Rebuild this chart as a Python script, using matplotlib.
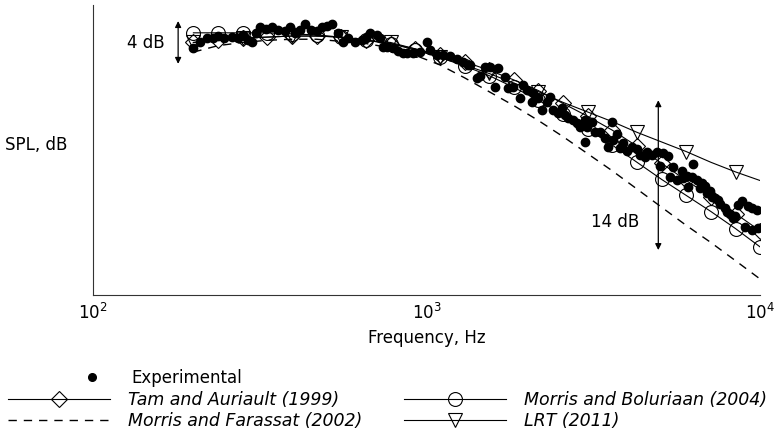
import matplotlib
matplotlib.use("Agg")
import matplotlib.pyplot as plt
from matplotlib.lines import Line2D

plt.rcParams['font.family'] = ['DejaVu Sans']

# experimental data (Hz, dB)
exp_freq = [200, 209, 220, 229, 237, 247, 261, 272, 282, 292, 300, 308, 317, 330,
            344, 359, 377, 390, 404, 418, 433, 451, 470, 486, 504, 521, 543, 562,
            582, 611, 641, 659, 678, 711, 726, 741, 762, 794, 822, 851, 875, 912,
            957, 1005, 1026, 1076, 1122, 1178, 1236, 1288, 1334, 1352, 1419, 1449,
            1500, 1552, 1607, 1641, 1722, 1758, 1820, 1910, 1950, 2004, 2075, 2089,
            2163, 2223, 2301, 2350, 2399, 2483, 2553, 2606, 2661, 2754, 2831, 2891,
            2992, 2992, 3034, 3141, 3206, 3319, 3436, 3508, 3606, 3631, 3733, 3811,
            3890, 4000, 4140, 4285, 4375, 4529, 4592, 4753, 4920, 5023, 5129, 5309,
            5383, 5495, 5649, 5848, 5888, 6053, 6095, 6266, 6310, 6486, 6622, 6714,
            6855, 6950, 7096, 7194, 7345, 7499, 7603, 7870, 7980, 8147, 8318, 8433,
            8610, 8851, 9036, 9226, 9484, 9484, 9817, 9886]
exp_spl = [103.1, 103.6, 104.0, 104.0, 104.2, 104.0, 104.1, 104.0, 104.3, 103.8,
           103.6, 104.5, 105.0, 104.9, 105.0, 104.8, 104.7, 105.0, 104.5, 104.8,
           105.3, 104.8, 104.7, 105.0, 105.1, 105.3, 104.5, 103.6, 104.0, 103.6,
           103.8, 104.0, 104.5, 104.3, 104.0, 103.2, 103.2, 103.1, 102.8, 102.6,
           102.6, 102.6, 102.7, 103.6, 102.9, 102.4, 102.4, 102.3, 102.1, 101.8,
           101.5, 101.5, 100.3, 100.5, 101.3, 101.3, 99.4, 101.2, 100.4, 99.3,
           99.4, 98.4, 99.6, 99.2, 98.0, 98.9, 98.4, 97.3, 98.0, 98.5,
           97.3, 97.0, 97.5, 96.8, 96.5, 96.4, 96.1, 95.7, 96.4, 94.3,
           95.7, 96.2, 95.2, 95.2, 94.7, 93.8, 96.2, 94.5, 95.0, 93.7,
           94.2, 93.5, 93.8, 93.6, 93.1, 92.9, 93.4, 93.1, 93.4, 92.1,
           93.3, 93.0, 91.0, 92.0, 90.7, 91.6, 90.9, 91.1, 90.1, 91.0,
           92.2, 90.7, 90.0, 90.5, 90.2, 89.5, 89.7, 89.2, 89.1, 88.9,
           88.5, 88.1, 87.8, 87.6, 87.2, 87.4, 88.4, 88.8, 86.4, 88.3,
           88.1, 86.1, 87.9, 86.3]

# model predictions
model_freq = [200, 237, 281, 333, 395, 468, 555, 658, 780, 925, 1097, 1300,
              1541, 1827, 2166, 2567, 3044, 3608, 4278, 5071, 6012, 7127, 8449, 10000]
tam_spl = [103.6, 103.8, 104.0, 104.1, 104.2, 104.2, 104.1, 103.8, 103.5, 103.0,
           102.4, 101.8, 101.0, 100.1, 99.1, 97.9, 96.7, 95.4, 93.9, 92.3,
           90.7, 89.2, 87.6, 86.0]
boluriaan_spl = [104.5, 104.5, 104.5, 104.5, 104.4, 104.3, 104.1, 103.8, 103.5, 102.9,
                 102.2, 101.4, 100.5, 99.4, 98.2, 96.9, 95.5, 94.0, 92.4, 90.8,
                 89.3, 87.8, 86.2, 84.5]
farassat_spl = [102.7, 103.3, 103.6, 103.8, 103.9, 103.9, 103.7, 103.5, 103.1, 102.4,
                101.5, 100.3, 99.0, 97.7, 96.3, 94.8, 93.2, 91.6, 89.9, 88.2,
                86.5, 84.9, 83.2, 81.5]
lrt_spl = [103.6, 103.8, 104.0, 104.1, 104.2, 104.2, 104.1, 103.8, 103.6, 103.0,
           102.2, 101.5, 100.7, 99.8, 99.0, 98.0, 97.1, 96.2, 95.2, 94.3,
           93.4, 92.4, 91.5, 90.7]

fig = plt.figure(figsize=(7.8, 4.3), dpi=100)
ax = fig.add_axes([93 / 780, 1 - 295 / 430, 667 / 780, 290 / 430])

lw = 0.8
dash = (0, (6, 5))
ax.plot(model_freq, tam_spl, color='k', lw=lw, marker='D', ms=8, mfc='none', mew=0.8)
ax.plot(model_freq, boluriaan_spl, color='k', lw=lw, marker='o', ms=10, mfc='none', mew=0.8)
ax.plot(model_freq, farassat_spl, color='k', lw=1.0, ls=dash)
ax.plot(model_freq, lrt_spl, color='k', lw=lw, marker='v', ms=10, mfc='none', mew=0.8,
        markevery=2)
ax.plot(exp_freq, exp_spl, 'o', color='k', ms=6, zorder=4)

ax.set_xscale('log')
ax.set_xlim(100, 10000)
ax.set_ylim(80, 107.1)
ax.set_xticks([100, 1000, 10000])
ax.minorticks_off()
ax.set_yticks([])
ax.tick_params(axis='x', length=0, pad=6, labelsize=12)
for s in ['top', 'right']:
    ax.spines[s].set_visible(False)
for s in ['left', 'bottom']:
    ax.spines[s].set_linewidth(0.8)
    ax.spines[s].set_color('#333333')

ax.set_xlabel('Frequency, Hz', fontsize=12, labelpad=4)
fig.text(5 / 780, 1 - 145 / 430, 'SPL, dB', fontsize=12, ha='left', va='center')

# range arrows
arrow = dict(arrowstyle='<|-|>', color='k', lw=0.9, shrinkA=0, shrinkB=0,
             mutation_scale=9)
ax.annotate('', xy=(180, 105.6), xytext=(180, 101.6), arrowprops=arrow)
ax.text(164, 103.55, '4 dB', fontsize=12, ha='right', va='center')
ax.annotate('', xy=(4955, 98.2), xytext=(4955, 84.2), arrowprops=arrow)
ax.text(4345, 86.8, '14 dB', fontsize=12, ha='right', va='center')

# legends
h_exp = [Line2D([], [], ls='none', marker='o', color='k', ms=5.5)]
fig.legend(h_exp, ['Experimental'], loc='center left',
           bbox_to_anchor=(75 / 780, 1 - 378 / 430), frameon=False,
           fontsize=12, handlelength=2.0, handletextpad=1.4, borderpad=0,
           borderaxespad=0, numpoints=1)

handles = [
    Line2D([], [], color='k', lw=lw, marker='D', ms=8, mfc='none', mew=0.8),
    Line2D([], [], color='k', lw=1.0, ls=dash),
    Line2D([], [], color='k', lw=lw, marker='o', ms=10, mfc='none', mew=0.8),
    Line2D([], [], color='k', lw=lw, marker='v', ms=10, mfc='none', mew=0.8),
]
labels = ['Tam and Auriault (1999)', 'Morris and Farassat (2002)',
          'Morris and Boluriaan (2004)', 'LRT (2011)']
leg = fig.legend(handles, labels, loc='upper left', ncol=2,
                 bbox_to_anchor=(8 / 780, 1 - 391 / 430), frameon=False,
                 handlelength=5.9, handletextpad=1.0,
                 columnspacing=2.4, labelspacing=0.2, borderpad=0,
                 borderaxespad=0, numpoints=1,
                 prop={'style': 'italic', 'size': 12.5})

fig.savefig('out.png', dpi=100)
